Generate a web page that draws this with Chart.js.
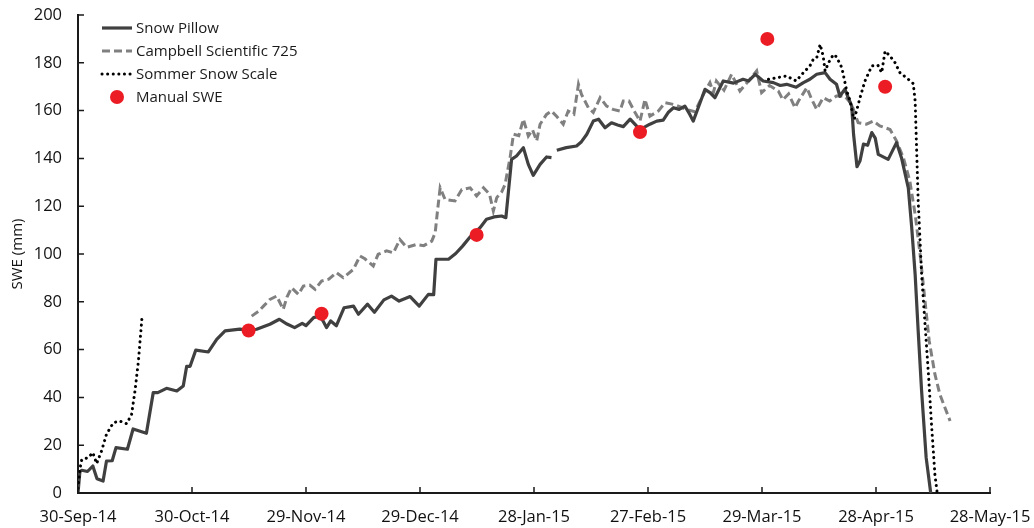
<!DOCTYPE html>
<html lang="en">
  <head>
    <meta charset="UTF-8" />
    <title>SWE comparison</title>
    <script src="https://cdn.jsdelivr.net/npm/chart.js"></script>
    <style>
      html, body { margin: 0; padding: 0; background: #fff; }
      #wrap { width: 1034px; height: 528px; }
    </style>
  </head>
  <body>
    <div id="wrap"><canvas id="sweChart" width="1034" height="528"></canvas></div>

    <script>
      // x values are days since 30-Sep-14
      const tickLabels = ["30-Sep-14", "30-Oct-14", "29-Nov-14", "29-Dec-14", "28-Jan-15",
        "27-Feb-15", "29-Mar-15", "28-Apr-15", "28-May-15"];

      const pillowDays = [0, 0.5, 1, 2.5, 3.9, 5, 6.6, 7.5, 9, 10, 13, 14.5, 18, 19.8, 21, 23.3, 26, 27.7,
        28.6, 29.5, 31, 34.3, 36.5, 38.7, 42.6, 45, 47, 50.5, 53, 55, 57, 59, 60, 62, 63.5, 64.5, 65.4,
        66.5, 68, 70, 72.5, 73.8, 76.2, 78, 80.5, 82.5, 84.5, 87.4, 89.8, 92.2, 93.6, 94.2, 97.5, 99.4,
        101.2, 103, 105.8, 107.5, 109.5, 111.5, 112.6, 114.1, 115.4, 117.2, 118.5, 119.8, 121.6, 123.3,
        124.6, 125.3, 126, 128.5, 131.2, 132.5, 133.9, 135.6, 137, 138.7, 140.4, 142, 143.5, 145.3, 147.9,
        150.5, 152.3, 154, 155.3, 156.7, 158.2, 159.7, 161, 161.9, 163.7, 165, 166.3, 167.6, 169.8, 172.5,
        175, 176.5, 178.2, 180.3, 183, 184.8, 186.5, 189, 190.9, 192.6, 194.4, 196.6, 197.9, 199.6, 200.5,
        201.8, 202.8, 203.6, 204.1, 205, 205.8, 206.7, 207.8, 208.9, 209.8, 210.6, 213.2, 215.4, 216.7,
        218.5, 219.4, 220.3, 221.1, 222, 223.2, 224.4];
      const pillowSwe = [0, 9, 9.5, 9, 11.3, 6, 5, 13.4, 13.5, 19, 18.3, 26.8, 25, 42, 42, 43.8, 42.7, 44.8,
        53, 53, 59.8, 59, 64.3, 67.8, 68.6, 68, 68.5, 70.6, 72.7, 70.7, 69.2, 71, 70, 73.4, 74, 72, 69.2,
        72, 70, 77.5, 78.2, 74.8, 79, 75.6, 80.8, 82.4, 80.3, 82.2, 78.2, 83.1, 83, 97.8, 97.8, 100.2,
        103.3, 106.8, 111, 114.5, 115.5, 115.9, 115.2, 139.6, 141, 144.5, 137.5, 132.9, 137.5, 140.6,
        140.3, null, 143.4, 144.5, 145.2, 147, 150.1, 155.6, 156.4, 152.8, 154.9, 154, 153.3, 156.4, 152,
        154.3, 155.6, 156, 159.2, 161.2, 160.5, 161.9, 158.4, 155.6, 163.3, 168.9, 167.5, 165.4, 172.4, 171.5,
        173.1, 172.4, 175.2, 172.4, 171.7, 170.5, 171, 169.8, 171.7, 173.1, 175.2, 175.9, 173.1, 171, 166,
        169, 165, 162, 150, 136.5, 139, 146, 145.5, 150.8, 148.5, 141.7, 139.6, 146.6, 140.3,
        127.7, 111, 91.5, 67.8, 42.7, 14.8, 0];

      const campbellDays = [45.7, 47.5, 49, 50.5, 52.3, 54, 55, 56.2, 58, 59.3, 61, 62.4, 64.1, 66, 68, 69.8,
        72.5, 74.2, 75.5, 77.7, 79, 81.2, 83, 84.7, 86.5, 89.1, 91, 93.1, 94, 94.6, 95.3, 96.6, 99.2, 101,
        103.2, 104.9, 106.7, 108.3, 109.3, 110.2, 111.5, 112.4, 113.2, 113.7, 114.6, 116, 117.2, 118.5,
        119.6, 120.7, 121.6, 123.3, 124.6, 126, 127.7, 129, 130.5, 131.7, 132.5, 134.3, 135.6, 137.4,
        139.1, 140.8, 142.6, 143.5, 145, 146.6, 147.9, 149.2, 150.5, 152.7, 154.5, 157, 160.2, 162.3,
        164.6, 166.3, 167.2, 168, 170, 172, 174.2, 176.5, 178.6, 179.9, 182, 184.3, 185.5, 187, 188.7,
        189.6, 191.8, 193, 194.4, 196.1, 197.8, 199.6, 201.8, 203.6, 205.3, 207.5, 209.3, 211, 213.7,
        215.4, 217.2, 218.9, 220.3, 221.6, 222.9, 224, 225.5, 226.8, 229.5];
      const campbellSwe = [74, 76, 78.5, 81, 82.4, 76.8, 82, 85.9, 83.1, 86.6, 87, 85.2, 88.7, 89.5, 92.2, 90.1,
        93.6, 99.2, 98, 95, 99.9, 101.3, 100.5, 106.1, 102.8, 104, 103.5, 105.4, 108.9, 118, 127.7, 122.8, 122.2, 127,
        127.7, 124.3, 127.7, 125, 118, 123.6, 126, 129.2, 136.1, 140.3, 150.1, 149.5, 156.4, 149.4,
        152, 147.3, 154.3, 158.4, 159.8, 157.5, 154.3, 159.8, 158.5, 171, 166.8, 161.2, 159.2, 165.4,
        161.9, 160.5, 159.8, 164, 164, 159.2, 155.6, 164.7, 157.7, 159.8, 163.3, 162.5, 160.5, 159.5,
        166.8, 171.7, 167.5, 172.4, 168.5, 175.2, 168.2, 172.5, 176.6, 167.5, 170.5, 168.2, 164.5, 167, 161.2,
        164, 169.6, 165, 160.5, 165.4, 164, 166.1, 166.1, 162.6, 154.9, 154.3, 155.6, 153.6, 152.1,
        147.3, 140.3, 130.5, 116.6, 99.9, 80.3, 63.6, 49.7, 41.3, 30.1];

      const sommerDays = [0, 0.5, 1, 2.7, 3.9, 4.9, 6.2, 7.5, 9.3, 11, 12.8, 14.1, 15, 15.9, 16.8, 17.5,
        181.7, 184, 186.4, 189, 190.9, 192.6, 193.5, 194.4, 195.3, 196.1, 196.6, 197.5, 198.8, 199.6, 201,
        202.3, 203.2, 203.9, 204.3, 205.8, 207.1, 208.9, 210.5, 211.5, 212.4, 213.7, 215, 216.3, 218.5,
        219.8, 220.3, 220.7, 221.1, 222, 222.9, 223.8, 224.6, 225.5, 226.1];
      const sommerSwe = [2, 10, 14, 14.8, 16.9, 12.3, 17.6, 24.6, 29.4, 30.1, 29, 32.9, 42.7, 55.2, 72.7, null,
        173.1, 173.8, 174.5, 172.4, 175.9, 178.7, 181.5, 182.1, 187.7, 182.8, 176.6, 180, 183.5, 182.5, 178,
        168.2, 164, 158.4, 156.4, 165.4, 172.4, 178.7, 179, 175.9, 184.9, 182.8, 180.1, 175.9, 173.1,
        171.3, 164, 143.1, 122.2, 91.5, 70.6, 49.7, 28.8, 7.8, 0];

      const manualDays = [44.9, 64.1, 104.9, 147.9, 181.4, 212.4];
      const manualSwe = [68, 75, 108, 151, 190, 170];

      const toPoints = (xs, ys) => xs.map((x, i) => ({ x: x, y: ys[i] }));

      const FONT = "'Open Sans', sans-serif";

      // legend drawn inside the plot, top left
      const insideLegend = {
        id: "insideLegend",
        afterDraw(chart) {
          const ctx = chart.ctx;
          const left = chart.chartArea.left;
          ctx.save();
          ctx.font = "15px " + FONT;
          ctx.textBaseline = "middle";
          chart.data.datasets.forEach((ds, i) => {
            const y = 28 + i * 23;
            if (ds.showLine === false) {
              ctx.beginPath();
              ctx.fillStyle = ds.backgroundColor;
              ctx.arc(left + 39, y, 7, 0, Math.PI * 2);
              ctx.fill();
            } else {
              ctx.beginPath();
              ctx.strokeStyle = ds.borderColor;
              ctx.lineWidth = ds.borderWidth;
              ctx.lineCap = ds.borderCapStyle || "butt";
              ctx.setLineDash(ds.borderDash || []);
              ctx.moveTo(left + 24, y);
              ctx.lineTo(left + 54, y);
              ctx.stroke();
              ctx.setLineDash([]);
            }
            ctx.fillStyle = "#1a1a1a";
            ctx.fillText(ds.label, left + 58, y + 1);
          });
          ctx.restore();
        },
      };

      // short tick marks pointing into the plot
      const innerTicks = {
        id: "innerTicks",
        afterDraw(chart) {
          const { ctx, chartArea } = chart;
          const xs = chart.scales.x;
          const ys = chart.scales.y;
          ctx.save();
          ctx.strokeStyle = "#1a1a1a";
          ctx.lineWidth = 1.5;
          ctx.beginPath();
          xs.ticks.forEach((t) => {
            const px = xs.getPixelForValue(t.value);
            ctx.moveTo(px, chartArea.bottom);
            ctx.lineTo(px, chartArea.bottom - 6);
          });
          ys.ticks.forEach((t) => {
            const py = ys.getPixelForValue(t.value);
            ctx.moveTo(chartArea.left, py);
            ctx.lineTo(chartArea.left + 6, py);
          });
          ctx.stroke();
          ctx.restore();
        },
      };

      const ctx = document.getElementById("sweChart").getContext("2d");
      new Chart(ctx, {
        type: "line",
        data: {
          datasets: [
            {
              label: "Snow Pillow",
              data: toPoints(pillowDays, pillowSwe),
              borderColor: "#404040",
              borderWidth: 3.2,
              borderJoinStyle: "round",
              pointRadius: 0,
              order: 1,
            },
            {
              label: "Campbell Scientific 725",
              data: toPoints(campbellDays, campbellSwe),
              borderColor: "#808080",
              borderWidth: 3,
              borderDash: [8, 4],
              pointRadius: 0,
              order: 2,
            },
            {
              label: "Sommer Snow Scale",
              data: toPoints(sommerDays, sommerSwe),
              borderColor: "#000000",
              borderWidth: 3,
              borderDash: [0.1, 5.5],
              borderCapStyle: "round",
              pointRadius: 0,
              order: 0,
            },
            {
              label: "Manual SWE",
              data: toPoints(manualDays, manualSwe),
              showLine: false,
              backgroundColor: "#ec1c24",
              borderColor: "#ec1c24",
              pointRadius: 7,
              pointBorderWidth: 0,
              order: -1,
            },
          ],
        },
        options: {
          responsive: false,
          animation: false,
          layout: { padding: { left: 0, right: 44, top: 15, bottom: 0 } },
          plugins: {
            legend: { display: false },
            tooltip: { enabled: false },
          },
          scales: {
            x: {
              type: "linear",
              min: 0,
              max: 240,
              afterFit: (s) => { s.height = 35; s.paddingLeft = 0; s.paddingRight = 0; },
              grid: { display: false, drawTicks: false },
              border: { display: true, color: "#1a1a1a", width: 2 },
              ticks: {
                stepSize: 30,
                padding: 14,
                color: "#111",
                font: { family: FONT, size: 16.5 },
                callback: (v) => tickLabels[Math.round(v / 30)],
              },
            },
            y: {
              min: 0,
              max: 200,
              afterFit: (s) => { s.width = 78; s.paddingTop = 0; s.paddingBottom = 0; },
              grid: { display: false, drawTicks: false },
              border: { display: true, color: "#1a1a1a", width: 2 },
              ticks: {
                stepSize: 20,
                padding: 16,
                color: "#111",
                font: { family: FONT, size: 16.5 },
              },
              title: {
                display: true,
                text: "SWE (mm)",
                color: "#111",
                font: { family: FONT, size: 15 },
                padding: { top: 9, bottom: 0 },
              },
            },
          },
        },
        plugins: [insideLegend, innerTicks],
      });
    </script>
  </body>
</html>
